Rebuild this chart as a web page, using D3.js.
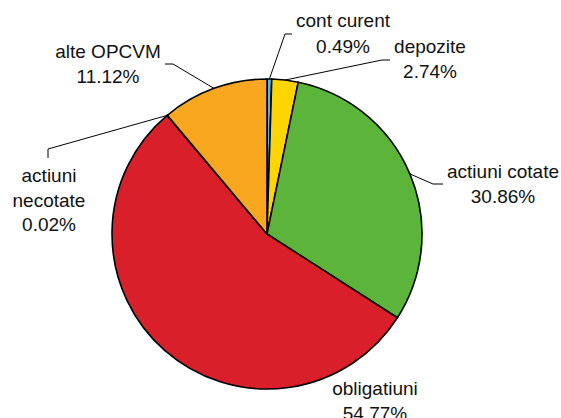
<!DOCTYPE html>
<html>
<head>
<meta charset="utf-8">
<script src="https://d3js.org/d3.v7.min.js"></script>
<style>
  body { margin:0; background:#fff; }
  text { font-family: Arial, "Liberation Sans", Helvetica, sans-serif; font-size:19px; fill:#111; }
</style>
</head>
<body>
<svg id="chart" width="561" height="418"></svg>
<script>
// data, clockwise from 12 o'clock
let names = ["cont curent", "depozite", "actiuni cotate", "obligatiuni", "actiuni necotate", "alte OPCVM"];
let values = [0.49, 2.74, 30.86, 54.77, 0.02, 11.12];
let colors = ["#55b8e8", "#ffd500", "#5db43a", "#d9202a", "#d9202a", "#f9a71e"];

// label lines (text lines) and where they sit
let labelLines = [
  ["cont curent", "0.49%"],
  ["depozite", "2.74%"],
  ["actiuni cotate", "30.86%"],
  ["obligatiuni", "54.77%"],
  ["actiuni", "necotate", "0.02%"],
  ["alte OPCVM", "11.12%"]
];
let labelPos = [[343, 27], [430, 53], [503, 178], [375, 395], [49, 182], [108, 58]];
let lineH = [26, 25, 25, 25, 24.5, 25];
// leader elbows: [elbow, end] or null
let leaders = [
  [[285, 34], [292, 34]],
  [[382, 60], [390, 60]],
  [[433, 184], [443, 184]],
  null,
  [[48, 149], [48, 158]],
  [[173, 64], [165, 64]]
];

let cx = 267, cy = 234, r = 155;
let svg = d3.select('#chart');
let g = svg.append('g').attr('transform', 'translate(' + cx + ',' + cy + ')');

let pie = d3.pie().sort(null).value(d => d);
let arcs = pie(values);
let arc = d3.arc().innerRadius(0).outerRadius(r);

g.selectAll('path.slice')
  .data(arcs)
  .enter().append('path')
  .attr('class', 'slice')
  .attr('d', arc)
  .attr('fill', (d, i) => colors[i])
  .attr('stroke', '#000')
  .attr('stroke-width', 1.6)
  .attr('stroke-linejoin', 'round');

// leader lines
arcs.forEach((d, i) => {
  if (!leaders[i]) return;
  let a = (d.startAngle + d.endAngle) / 2;
  let sx = cx + r * Math.sin(a), sy = cy - r * Math.cos(a);
  let pts = [[sx, sy]].concat(leaders[i]);
  svg.append('path')
    .attr('d', d3.line()(pts))
    .attr('fill', 'none')
    .attr('stroke', '#000')
    .attr('stroke-width', 1);
});

// labels
labelLines.forEach((lines, i) => {
  let t = svg.append('text')
    .attr('text-anchor', 'middle')
    .attr('x', labelPos[i][0])
    .attr('y', labelPos[i][1]);
  lines.forEach((s, j) => {
    t.append('tspan')
      .attr('x', labelPos[i][0])
      .attr('y', labelPos[i][1] + j * lineH[i])
      .text(s);
  });
});
</script>
</body>
</html>
